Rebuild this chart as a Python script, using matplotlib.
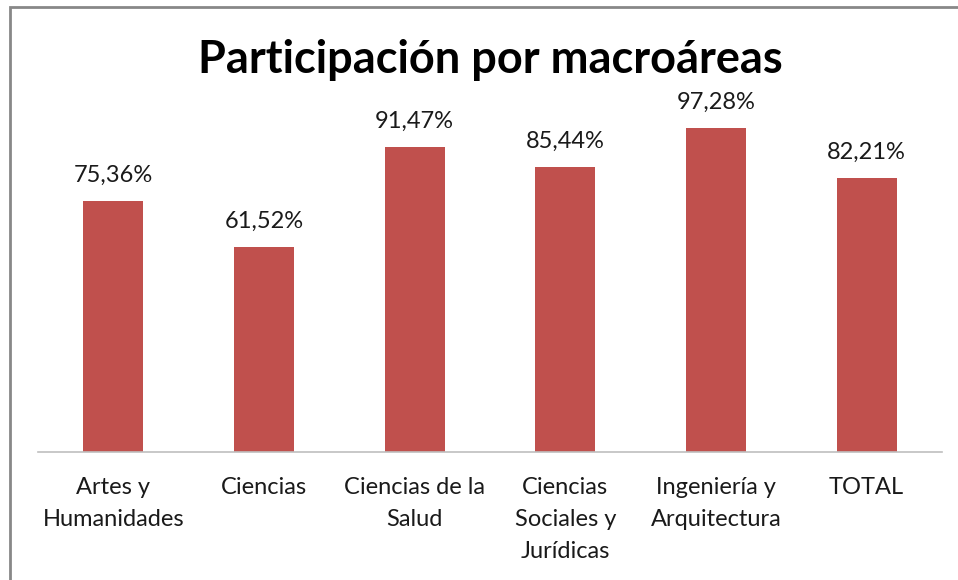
import matplotlib
matplotlib.use("Agg")
from matplotlib import pyplot as plt
from matplotlib.patches import Rectangle

categories = ["Artes y\nHumanidades", "Ciencias", "Ciencias de la\nSalud",
              "Ciencias\nSociales y\nJurídicas", "Ingeniería y\nArquitectura", "TOTAL"]
values = [75.36, 61.52, 91.47, 85.44, 97.28, 82.21]
value_labels = ["75,36%", "61,52%", "91,47%", "85,44%", "97,28%", "82,21%"]

plt.rcParams["font.family"] = ["Lato", "DejaVu Sans"]

fig = plt.figure(figsize=(9.58, 5.8), dpi=100)
fig.patches.append(Rectangle((10/958, -0.1), 1.2, (580-6.5)/580 + 0.1, transform=fig.transFigure,
                             fill=False, edgecolor="#888888", linewidth=2))

ax = fig.add_axes([38/958, (580-452)/580, 904/958, 400/580])
x = range(len(categories))
ax.bar(x, values, width=0.40, color="#C0504D")
for i, lab in enumerate(value_labels):
    ax.text(i, values[i] + 4.6, lab, ha="center", va="bottom", fontsize=17, color="#1a1a1a")

ax.set_xlim(-0.5, len(categories) - 0.5)
ax.set_ylim(0, 120)
ax.set_yticks([])
ax.set_xticks(list(x))
ax.set_xticklabels(categories, fontsize=17, color="#1a1a1a", linespacing=1.66)
ax.tick_params(axis="x", length=0, pad=18)
for s in ["top", "right", "left"]:
    ax.spines[s].set_visible(False)
ax.spines["bottom"].set_color("#BFBFBF")
ax.spines["bottom"].set_linewidth(1.2)

fig.text(490/958, 1 - 60/580, "Participación por macroáreas", ha="center", va="center",
         fontsize=32.5, fontweight="bold", color="black")

fig.savefig("out.png", dpi=100)
